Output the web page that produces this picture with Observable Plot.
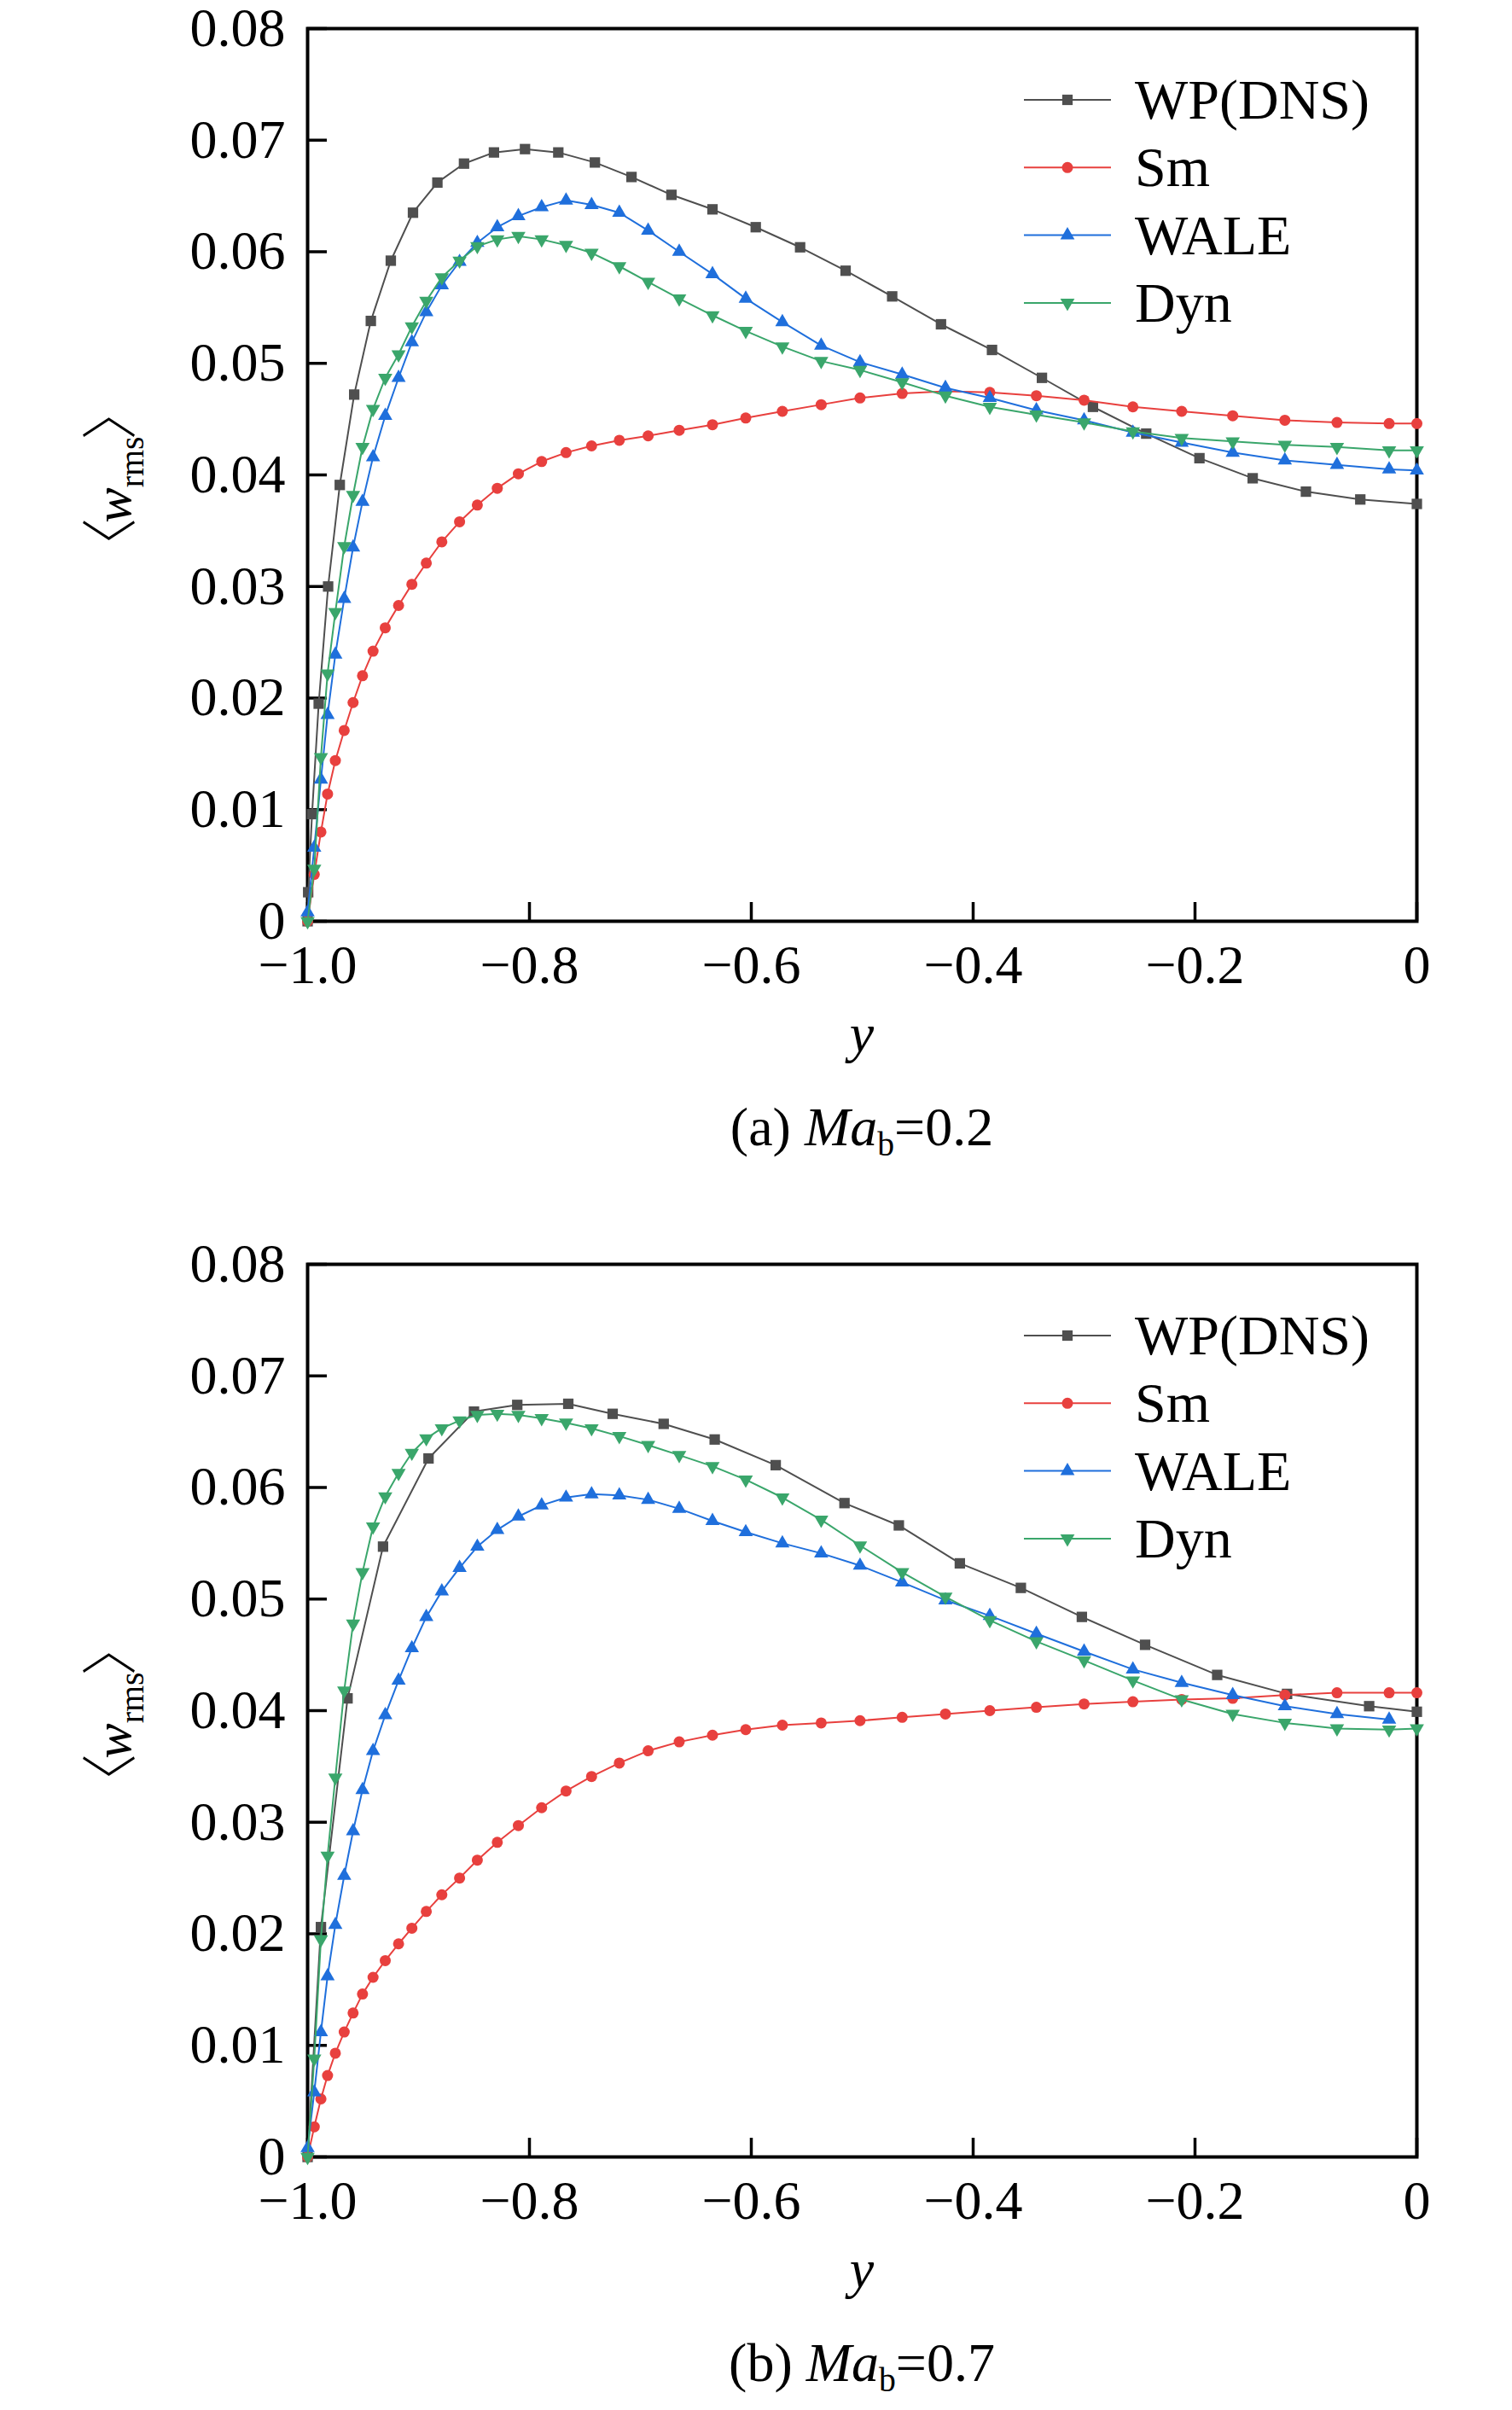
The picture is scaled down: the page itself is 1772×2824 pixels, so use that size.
<!DOCTYPE html>
<html>
<head>
<meta charset="utf-8">
<script src="https://cdn.jsdelivr.net/npm/d3@7"></script>
<script src="https://cdn.jsdelivr.net/npm/@observablehq/plot@0.6"></script>
<style>
  body { margin: 0; background: #fff; }
  .cap { position: relative; font-family: "Liberation Serif", "Times New Roman", serif; font-size: 64px; color: #000; }
  .cap .t { position: absolute; left: 1010px; transform: translateX(-50%); white-space: nowrap; line-height: 64px; }
  .cap .sub { font-size: 0.62em; position: relative; top: 0.3em; }
</style>
</head>
<body>
<div id="panelA"></div>
<div class="cap" style="height:178px"><span class="t" style="top:19px">(a) <i>Ma</i><span class="sub">b</span>=0.2</span></div>
<div id="panelB"></div>
<div class="cap" style="height:106px"><span class="t" style="top:19px">(b) <i>Ma</i><span class="sub">b</span>=0.7</span></div>
<script>
// ---------- data ----------
const seriesNames = ["WP(DNS)", "Sm", "WALE", "Dyn"];
const seriesColors = ["#4f4f4f", "#e8403e", "#1f6fdc", "#3aa66b"];

const xTicks = [-1.0, -0.8, -0.6, -0.4, -0.2, 0];
const xTickLabels = ["\u22121.0", "\u22120.8", "\u22120.6", "\u22120.4", "\u22120.2", "0"];
const yTicks = [0, 0.01, 0.02, 0.03, 0.04, 0.05, 0.06, 0.07, 0.08];
const yTickLabels = ["0", "0.01", "0.02", "0.03", "0.04", "0.05", "0.06", "0.07", "0.08"];

// LES grid (wall-normal position y)
const yLES = [-1.0, -0.994, -0.988, -0.982, -0.975, -0.967, -0.959, -0.9505, -0.941, -0.930,
  -0.918, -0.906, -0.893, -0.879, -0.863, -0.847, -0.829, -0.810, -0.789, -0.767,
  -0.744, -0.719, -0.693, -0.665, -0.635, -0.605, -0.572, -0.537, -0.502, -0.464,
  -0.425, -0.385, -0.343, -0.300, -0.256, -0.212, -0.166, -0.119, -0.072, -0.025, 0];

// (a) Ma_b = 0.2
const a_yDNS = [-1.0, -0.9995, -0.996, -0.990, -0.9815, -0.971, -0.958, -0.943, -0.925, -0.905,
  -0.883, -0.859, -0.832, -0.804, -0.774, -0.741, -0.708, -0.672, -0.635, -0.596,
  -0.556, -0.515, -0.473, -0.429, -0.383, -0.338, -0.292, -0.244, -0.196, -0.148,
  -0.100, -0.051, 0];
const a_wDNS = [0, 0.0026, 0.0096, 0.0195, 0.0300, 0.0391, 0.0472, 0.0538, 0.0592, 0.0635,
  0.0662, 0.0679, 0.0689, 0.0692, 0.0689, 0.0680, 0.0667, 0.0651, 0.0638, 0.0622,
  0.0604, 0.0583, 0.0560, 0.0535, 0.0512, 0.0487, 0.0461, 0.0437, 0.0415, 0.0397,
  0.0385, 0.0378, 0.0374];
const a_wSm = [0, 0.0042, 0.0080, 0.0114, 0.0144, 0.0171, 0.0196, 0.0220, 0.0242, 0.0263,
  0.0283, 0.0302, 0.0321, 0.0340, 0.0358, 0.0373, 0.0388, 0.0401, 0.0412, 0.0420,
  0.0426, 0.0431, 0.0435, 0.0440, 0.0445, 0.0451, 0.0457, 0.0463, 0.0469, 0.0473,
  0.0475, 0.0474, 0.0471, 0.0467, 0.0461, 0.0457, 0.0453, 0.0449, 0.0447, 0.0446, 0.0446];
const a_wWALE = [0.0008, 0.0066, 0.0127, 0.0185, 0.0239, 0.0289, 0.0335, 0.0376, 0.0416, 0.0453,
  0.0487, 0.0519, 0.0546, 0.0570, 0.0591, 0.0608, 0.0622, 0.0632, 0.0640, 0.0646,
  0.0642, 0.0635, 0.0619, 0.0600, 0.0580, 0.0558, 0.0537, 0.0516, 0.0501, 0.0490,
  0.0478, 0.0469, 0.0458, 0.0449, 0.0438, 0.0429, 0.0420, 0.0413, 0.0409, 0.0405, 0.0404];
const a_wDyn = [0, 0.0047, 0.0147, 0.0222, 0.0277, 0.0336, 0.0382, 0.0425, 0.0459, 0.0487,
  0.0508, 0.0533, 0.0556, 0.0577, 0.0592, 0.0605, 0.0611, 0.0614, 0.0611, 0.0606,
  0.0599, 0.0587, 0.0573, 0.0558, 0.0543, 0.0529, 0.0515, 0.0502, 0.0494, 0.0483,
  0.0471, 0.0461, 0.0454, 0.0447, 0.0439, 0.0433, 0.0430, 0.0427, 0.0425, 0.0422, 0.0422];

// (b) Ma_b = 0.7
const b_yDNS = [-1.0, -0.988, -0.964, -0.932, -0.891, -0.850, -0.811, -0.765, -0.725, -0.679,
  -0.633, -0.578, -0.516, -0.467, -0.412, -0.357, -0.302, -0.245, -0.180, -0.117,
  -0.043, 0];
const b_wDNS = [0, 0.0206, 0.0411, 0.0547, 0.0626, 0.0668, 0.0674, 0.0675, 0.0666, 0.0657,
  0.0643, 0.0620, 0.0586, 0.0566, 0.0532, 0.0510, 0.0484, 0.0459, 0.0432, 0.0415,
  0.0404, 0.0399];
const b_wSm = [0, 0.0027, 0.0052, 0.0073, 0.0093, 0.0112, 0.0129, 0.0146, 0.0161, 0.0176,
  0.0191, 0.0205, 0.0220, 0.0235, 0.0250, 0.0266, 0.0282, 0.0297, 0.0313, 0.0328,
  0.0341, 0.0353, 0.0364, 0.0372, 0.0378, 0.0383, 0.0387, 0.0389, 0.0391, 0.0394,
  0.0397, 0.0400, 0.0403, 0.0406, 0.0408, 0.0410, 0.0411, 0.0414, 0.0416, 0.0416, 0.0416];
const b_wWALE = [0.0008, 0.0058, 0.0112, 0.0162, 0.0208, 0.0252, 0.0292, 0.0329, 0.0364, 0.0396,
  0.0427, 0.0456, 0.0484, 0.0507, 0.0528, 0.0547, 0.0562, 0.0574, 0.0584, 0.0591,
  0.0594, 0.0593, 0.0589, 0.0581, 0.0570, 0.0560, 0.0550, 0.0541, 0.0530, 0.0515,
  0.0499, 0.0485, 0.0469, 0.0453, 0.0437, 0.0425, 0.0414, 0.0404, 0.0397, 0.0392, null];
const b_wDyn = [0, 0.0088, 0.0195, 0.0270, 0.0340, 0.0418, 0.0478, 0.0524, 0.0565, 0.0592,
  0.0613, 0.0631, 0.0644, 0.0653, 0.0660, 0.0665, 0.0666, 0.0665, 0.0662, 0.0658,
  0.0653, 0.0646, 0.0638, 0.0629, 0.0619, 0.0607, 0.0591, 0.0571, 0.0548, 0.0524,
  0.0502, 0.0481, 0.0462, 0.0445, 0.0427, 0.0410, 0.0397, 0.0389, 0.0384, 0.0383, 0.0384];

// ---------- drawing ----------
const FONT = "Liberation Serif, Times New Roman, serif";
const BRACKET_FONT = "Noto Sans CJK SC, Noto Sans CJK JP, DejaVu Sans, sans-serif";
const sqrt3 = Math.sqrt(3);
const triangleDown = {
  draw(context, size) {
    const y = -Math.sqrt(size / (sqrt3 * 3));
    context.moveTo(0, -y * 2);
    context.lineTo(-sqrt3 * y, y);
    context.lineTo(sqrt3 * y, y);
    context.closePath();
  }
};
const seriesSymbols = ["square", "circle", "triangle", triangleDown];
const seriesD3Symbols = [d3.symbolSquare, d3.symbolCircle, d3.symbolTriangle, triangleDown];
const seriesR = [6.9, 6.5, 6.2, 6.2];

const xFmt = new Map(xTicks.map((d, i) => [d, xTickLabels[i]]));
const yFmt = new Map(yTicks.map((d, i) => [d, yTickLabels[i]]));

function rows(xs, ws) {
  return xs.map((x, i) => ({x, w: ws[i]})).filter(d => d.w != null);
}

function panel(target, series) {
  const W = 1772, H = 1270, mL = 360, mR = 112, mT = 33, mB = 191;
  const plotW = W - mL - mR, plotH = H - mT - mB;
  const marks = [
    Plot.frame({stroke: "black", strokeWidth: 4}),
    Plot.tickX(xTicks, {x: d => d, insetTop: plotH - 22, stroke: "black", strokeWidth: 3.5}),
    Plot.tickY(yTicks, {y: d => d, insetRight: plotW - 23, stroke: "black", strokeWidth: 3.5}),
    Plot.axisX({ticks: xTicks, tickSize: 0, tickPadding: 27, tickFormat: d => xFmt.get(d), label: null, fill: "black"}),
    Plot.axisY({ticks: yTicks, tickSize: 0, tickPadding: 26, tickFormat: d => yFmt.get(d), label: null, fill: "black"})
  ];
  series.forEach((data, i) => {
    marks.push(Plot.line(data, {x: "x", y: "w", stroke: seriesColors[i], strokeWidth: 2}));
    marks.push(Plot.dot(data, {x: "x", y: "w", symbol: seriesSymbols[i], r: seriesR[i], fill: seriesColors[i], stroke: "none"}));
  });
  const chart = Plot.plot({
    width: W, height: H,
    marginLeft: mL, marginRight: mR, marginTop: mT, marginBottom: mB,
    x: {domain: [-1, 0]},
    y: {domain: [0, 0.08]},
    style: {fontFamily: FONT, fontSize: "64px", color: "black", background: "white", overflow: "visible"},
    marks
  });
  const svg = d3.select(chart);
  const [xl, xr] = chart.scale("x").range;
  const [yb, yt] = chart.scale("y").range;
  const ymid = (yb + yt) / 2;

  // y-axis label ⟨w_rms⟩
  const yl = svg.append("text")
    .attr("transform", `translate(153,${ymid + 5}) rotate(-90)`)
    .attr("text-anchor", "middle")
    .attr("font-family", FONT)
    .attr("font-size", 62)
    .attr("fill", "black");
  yl.append("tspan").attr("font-family", BRACKET_FONT).attr("font-weight", 300).attr("font-size", 66).text("\u3008");
  yl.append("tspan").attr("font-style", "italic").attr("dx", -6).text("w");
  yl.append("tspan").attr("font-size", 40).attr("dy", 15).text("rms");
  yl.append("tspan").attr("dy", -15).attr("dx", -4).attr("font-family", BRACKET_FONT).attr("font-weight", 300).attr("font-size", 66).text("\u3009");

  // x-axis label y
  svg.append("text")
    .attr("x", (xl + xr) / 2).attr("y", yb + 153)
    .attr("text-anchor", "middle")
    .attr("font-family", FONT).attr("font-size", 64).attr("font-style", "italic")
    .attr("fill", "black")
    .text("y");

  // legend inside frame
  const lg = svg.append("g").attr("text-anchor", "start");
  seriesNames.forEach((name, i) => {
    const cy = yt + 84 + i * 79.3;
    const lx0 = xr - 460, lx1 = xr - 358;
    lg.append("line").attr("x1", lx0).attr("x2", lx1).attr("y1", cy).attr("y2", cy)
      .attr("stroke", seriesColors[i]).attr("stroke-width", 2);
    lg.append("path")
      .attr("d", d3.symbol().type(seriesD3Symbols[i]).size(Math.PI * seriesR[i] * seriesR[i])())
      .attr("transform", `translate(${(lx0 + lx1) / 2},${cy})`)
      .attr("fill", seriesColors[i]);
    lg.append("text").attr("x", xr - 330).attr("y", cy + 22)
      .attr("text-anchor", "start")
      .attr("font-family", FONT).attr("font-size", 66).attr("fill", "black")
      .text(name);
  });
  document.getElementById(target).appendChild(chart);
}

panel("panelA", [rows(a_yDNS, a_wDNS), rows(yLES, a_wSm), rows(yLES, a_wWALE), rows(yLES, a_wDyn)]);
panel("panelB", [rows(b_yDNS, b_wDNS), rows(yLES, b_wSm), rows(yLES, b_wWALE), rows(yLES, b_wDyn)]);
</script>
</body>
</html>
